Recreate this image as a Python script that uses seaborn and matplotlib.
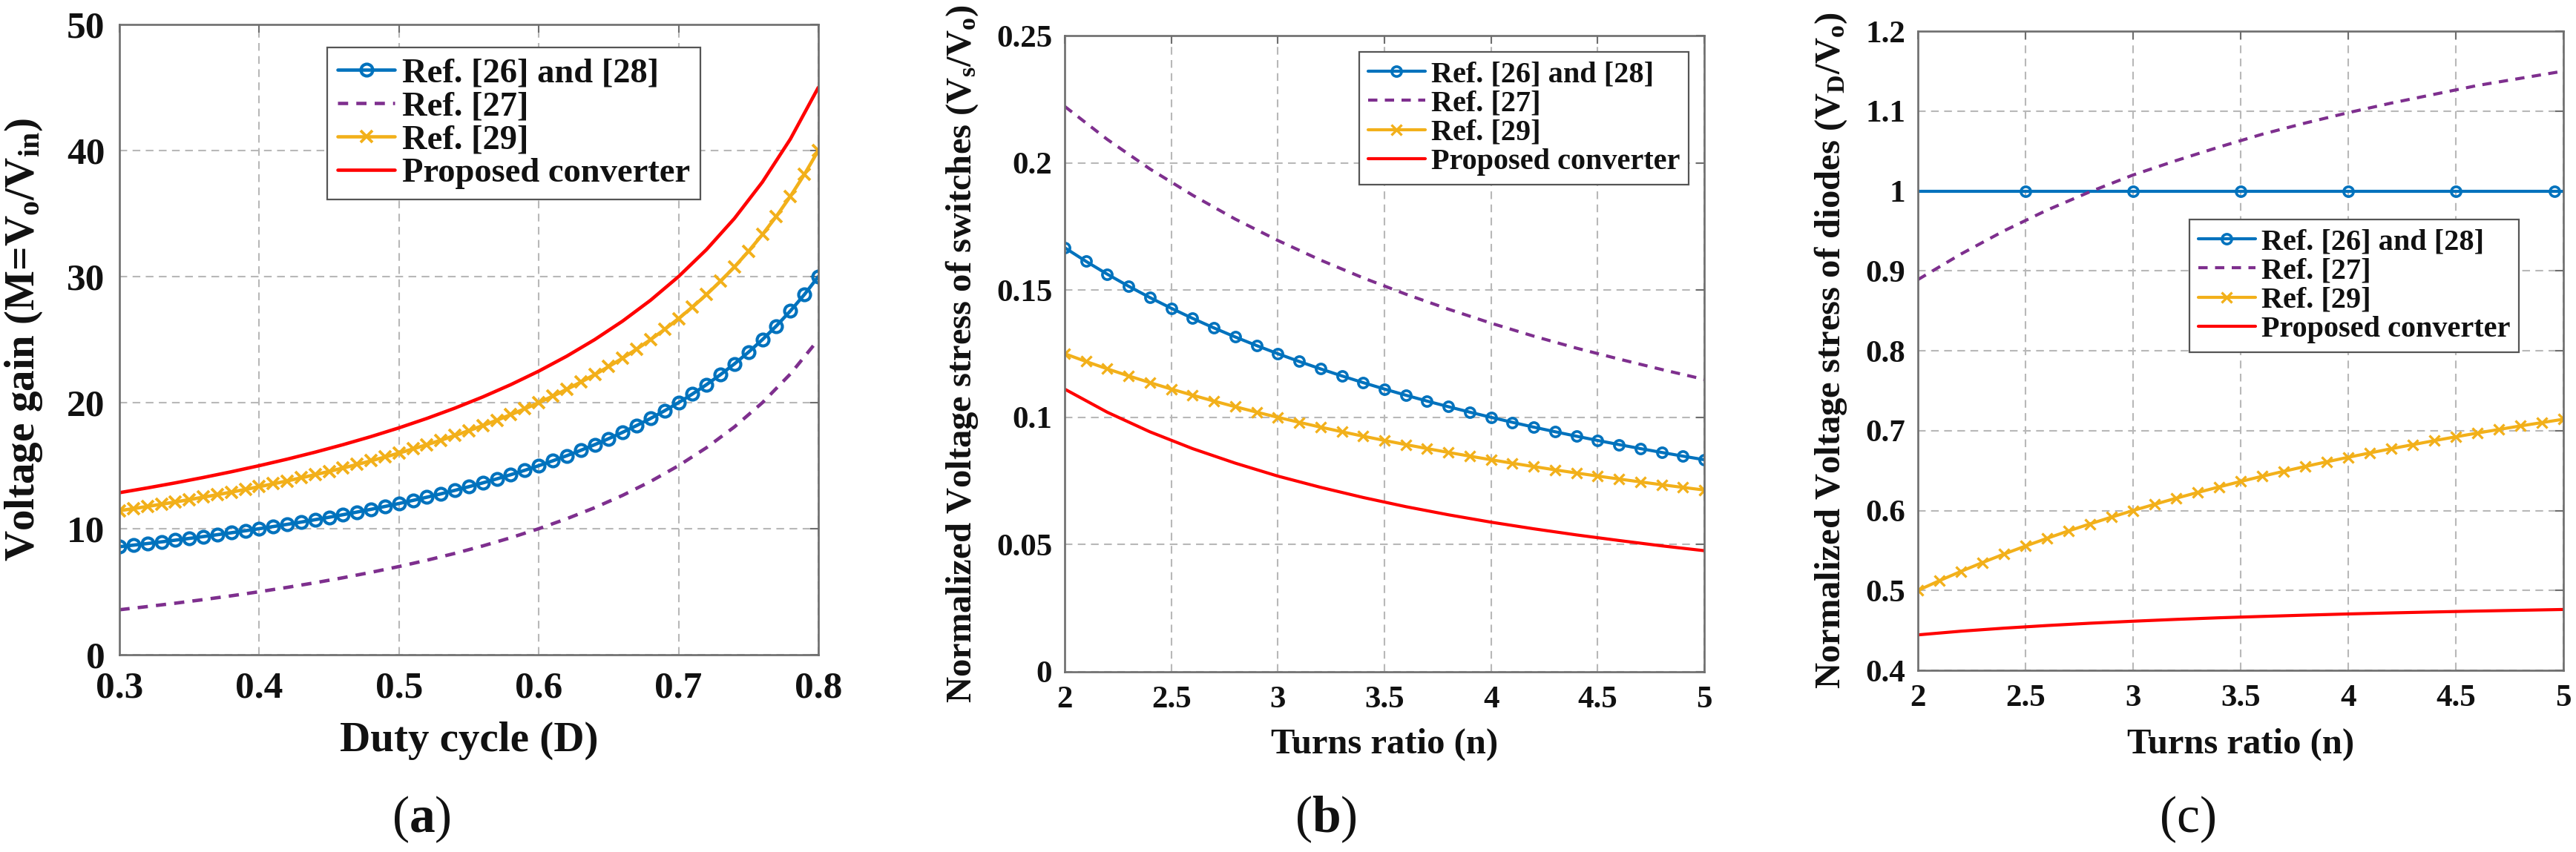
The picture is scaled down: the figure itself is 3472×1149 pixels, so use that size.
import matplotlib
matplotlib.use("Agg")
import matplotlib.pyplot as plt
from matplotlib.lines import Line2D
import seaborn as sns

# ---------------- data ----------------
duty_fine = [0.30, 0.31, 0.32, 0.33, 0.34, 0.35, 0.36, 0.37, 0.38, 0.39,
             0.40, 0.41, 0.42, 0.43, 0.44, 0.45, 0.46, 0.47, 0.48, 0.49,
             0.50, 0.51, 0.52, 0.53, 0.54, 0.55, 0.56, 0.57, 0.58, 0.59,
             0.60, 0.61, 0.62, 0.63, 0.64, 0.65, 0.66, 0.67, 0.68, 0.69,
             0.70, 0.71, 0.72, 0.73, 0.74, 0.75, 0.76, 0.77, 0.78, 0.79, 0.80]
duty_coarse = [0.30, 0.32, 0.34, 0.36, 0.38, 0.40, 0.42, 0.44, 0.46, 0.48, 0.50,
               0.52, 0.54, 0.56, 0.58, 0.60, 0.62, 0.64, 0.66, 0.68, 0.70,
               0.72, 0.74, 0.76, 0.78, 0.80]
gain_ref26_28 = [8.571, 8.696, 8.824, 8.955, 9.091, 9.231, 9.375, 9.524, 9.677, 9.836,
                 10.0, 10.169, 10.345, 10.526, 10.714, 10.909, 11.111, 11.321, 11.538, 11.765,
                 12.0, 12.245, 12.5, 12.766, 13.043, 13.333, 13.636, 13.953, 14.286, 14.634,
                 15.0, 15.385, 15.789, 16.216, 16.667, 17.143, 17.647, 18.182, 18.75, 19.355,
                 20.0, 20.69, 21.429, 22.222, 23.077, 24.0, 25.0, 26.087, 27.273, 28.571, 30.0]
gain_ref29 = [11.429, 11.594, 11.765, 11.94, 12.121, 12.308, 12.5, 12.698, 12.903, 13.115,
              13.333, 13.559, 13.793, 14.035, 14.286, 14.545, 14.815, 15.094, 15.385, 15.686,
              16.0, 16.327, 16.667, 17.021, 17.391, 17.778, 18.182, 18.605, 19.048, 19.512,
              20.0, 20.513, 21.053, 21.622, 22.222, 22.857, 23.529, 24.242, 25.0, 25.806,
              26.667, 27.586, 28.571, 29.63, 30.769, 32.0, 33.333, 34.783, 36.364, 38.095, 40.0]
gain_ref27 = [3.571, 3.824, 4.091, 4.375, 4.677, 5.0, 5.345, 5.714, 6.111, 6.538, 7.0,
              7.5, 8.043, 8.636, 9.286, 10.0, 10.789, 11.667, 12.647, 13.75, 15.0,
              16.429, 18.077, 20.0, 22.273, 25.0]
gain_proposed = [12.857, 13.235, 13.636, 14.063, 14.516, 15.0, 15.517, 16.071, 16.667, 17.308, 18.0,
                 18.75, 19.565, 20.455, 21.429, 22.5, 23.684, 25.0, 26.471, 28.125, 30.0,
                 32.143, 34.615, 37.5, 40.909, 45.0]

turns_fine = [2.0, 2.1, 2.2, 2.3, 2.4, 2.5, 2.6, 2.7, 2.8, 2.9,
              3.0, 3.1, 3.2, 3.3, 3.4, 3.5, 3.6, 3.7, 3.8, 3.9,
              4.0, 4.1, 4.2, 4.3, 4.4, 4.5, 4.6, 4.7, 4.8, 4.9, 5.0]
turns_coarse = [2.0, 2.2, 2.4, 2.6, 2.8, 3.0, 3.2, 3.4, 3.6, 3.8,
                4.0, 4.2, 4.4, 4.6, 4.8, 5.0]
sw_ref26_28 = [0.16667, 0.16129, 0.15625, 0.15152, 0.14706, 0.14286, 0.13889, 0.13514, 0.13158, 0.12821,
               0.125, 0.12195, 0.11905, 0.11628, 0.11364, 0.11111, 0.1087, 0.10638, 0.10417, 0.10204,
               0.1, 0.09804, 0.09615, 0.09434, 0.09259, 0.09091, 0.08929, 0.08772, 0.08621, 0.08475, 0.08333]
sw_ref29 = [0.125, 0.12195, 0.11905, 0.11628, 0.11364, 0.11111, 0.1087, 0.10638, 0.10417, 0.10204,
            0.1, 0.09804, 0.09615, 0.09434, 0.09259, 0.09091, 0.08929, 0.08772, 0.08621, 0.08475,
            0.08333, 0.08197, 0.08065, 0.07937, 0.07813, 0.07692, 0.07576, 0.07463, 0.07353, 0.07246, 0.07143]
sw_ref27 = [0.2222, 0.2092, 0.1976, 0.1873, 0.1779, 0.1695, 0.1618, 0.1548, 0.1484, 0.1425,
            0.137, 0.1319, 0.1272, 0.1229, 0.1188, 0.1149]
sw_proposed = [0.1111, 0.102, 0.0943, 0.0877, 0.082, 0.0769, 0.0725, 0.0685, 0.0649, 0.0617,
               0.0588, 0.0562, 0.0538, 0.0516, 0.0495, 0.0476]

turns_diode_ref26_28 = [2.0, 2.5, 3.0, 3.5, 4.0, 4.5, 4.96, 5.0]
d_ref26_28 = [1.0, 1.0, 1.0, 1.0, 1.0, 1.0, 1.0, 1.0]
d_ref27 = [0.889, 0.921, 0.95, 0.976, 0.999, 1.02, 1.038, 1.055, 1.071, 1.085,
           1.098, 1.11, 1.121, 1.132, 1.141, 1.15]
d_ref29 = [0.5, 0.5122, 0.5238, 0.5349, 0.5455, 0.5556, 0.5652, 0.5745, 0.5833, 0.5918,
           0.6, 0.6078, 0.6154, 0.6226, 0.6296, 0.6364, 0.6429, 0.6491, 0.6552, 0.661,
           0.6667, 0.6721, 0.6774, 0.6825, 0.6875, 0.6923, 0.697, 0.7015, 0.7059, 0.7101, 0.7143]
d_proposed = [0.4444, 0.449, 0.4528, 0.4561, 0.459, 0.4615, 0.4638, 0.4658, 0.4675, 0.4691,
              0.4706, 0.4719, 0.4731, 0.4742, 0.4752, 0.4762]

legend_labels = ["Ref. [26] and [28]", "Ref. [27]", "Ref. [29]", "Proposed converter"]
panel_letters = ["a", "b", "c"]

xticks_a = [0.3, 0.4, 0.5, 0.6, 0.7, 0.8]
xticklabels_a = ["0.3", "0.4", "0.5", "0.6", "0.7", "0.8"]
yticks_a = [0, 10, 20, 30, 40, 50]
yticklabels_a = ["0", "10", "20", "30", "40", "50"]
xticks_bc = [2, 2.5, 3, 3.5, 4, 4.5, 5]
xticklabels_bc = ["2", "2.5", "3", "3.5", "4", "4.5", "5"]
yticks_b = [0, 0.05, 0.1, 0.15, 0.2, 0.25]
yticklabels_b = ["0", "0.05", "0.1", "0.15", "0.2", "0.25"]
yticks_c = [0.4, 0.5, 0.6, 0.7, 0.8, 0.9, 1.0, 1.1, 1.2]
yticklabels_c = ["0.4", "0.5", "0.6", "0.7", "0.8", "0.9", "1", "1.1", "1.2"]

# ---------------- style ----------------
sns.set_theme(style="white")
SERIF = ["Liberation Serif", "DejaVu Serif"]
plt.rcParams["font.family"] = SERIF
plt.rcParams["font.weight"] = "bold"
plt.rcParams["mathtext.fontset"] = "custom"
plt.rcParams["mathtext.rm"] = "Liberation Serif:bold"
plt.rcParams["mathtext.it"] = "Liberation Serif:bold"
plt.rcParams["mathtext.bf"] = "Liberation Serif:bold"
plt.rcParams["mathtext.default"] = "rm"

BLUE = "#0072BD"
PURPLE = "#7E2F8E"
ORANGE = "#F2B01A"
RED = "#FF0000"
SPINE = "#6e6e6e"
GRID = "#b8b8b8"
TXT = "#111111"
DASH = (0, (3, 2.4))

fig = plt.figure(figsize=(34.72, 11.49), dpi=100)
ax_a = fig.add_axes([0.04637, 0.2315, 0.2713, 0.7398])
ax_b = fig.add_axes([0.4133, 0.2115, 0.2483, 0.7467])
ax_c = fig.add_axes([0.7445, 0.2132, 0.2506, 0.7502])


def line(ax, x, y, **kw):
    sns.lineplot(x=x, y=y, ax=ax, estimator=None, sort=False, legend=False, **kw)


def set_ticks(ax, xt, xl, yt, yl, fs):
    ax.set_xticks(xt)
    ax.set_xticklabels(xl, fontfamily=SERIF, fontweight="bold", fontsize=fs, color=TXT)
    ax.set_yticks(yt)
    ax.set_yticklabels(yl, fontfamily=SERIF, fontweight="bold", fontsize=fs, color=TXT)


def style_axes(ax, pad_x, pad_y):
    ax.set_axisbelow(True)
    ax.grid(True, linestyle=(0, (5, 3.5)), color=GRID, linewidth=1.5)
    for s in ax.spines.values():
        s.set_color(SPINE)
        s.set_linewidth(1.9)
        s.set_visible(True)
    ax.tick_params(axis="both", direction="in", top=True, right=True, length=8,
                   width=1.5, color=SPINE)
    ax.tick_params(axis="x", pad=pad_x)
    ax.tick_params(axis="y", pad=pad_y)


def make_handles(lw, ms_o, mew_o, ms_x, mew_x):
    return [
        Line2D([], [], color=BLUE, lw=lw, marker="o", ms=ms_o, mfc="none", mec=BLUE, mew=mew_o),
        Line2D([], [], color=PURPLE, lw=lw, linestyle=DASH),
        Line2D([], [], color=ORANGE, lw=lw, marker="x", ms=ms_x, mec=ORANGE, mew=mew_x),
        Line2D([], [], color=RED, lw=lw),
    ]


def add_legend(ax, handles, fs, loc, anchor, hl):
    leg = ax.legend(handles=handles, labels=legend_labels, loc=loc, bbox_to_anchor=anchor,
                    prop={"weight": "bold", "size": fs, "family": SERIF}, frameon=True,
                    fancybox=False, edgecolor="#555555", framealpha=1, borderpad=0.3,
                    labelspacing=0.05, handlelength=hl, handletextpad=0.2, borderaxespad=0)
    leg.get_frame().set_linewidth(1.6)
    for t in leg.get_texts():
        t.set_color(TXT)


# ---------------- panel (a) ----------------
lw_a = 3.3
line(ax_a, duty_fine, gain_ref26_28, color=BLUE, lw=lw_a, marker="o", ms=11.5,
     mfc="none", mec=BLUE, mew=3.0)
line(ax_a, duty_coarse, gain_ref27, color=PURPLE, lw=lw_a, linestyle=DASH)
line(ax_a, duty_fine, gain_ref29, color=ORANGE, lw=lw_a, marker="x", ms=11,
     mec=ORANGE, mew=2.8)
line(ax_a, duty_coarse, gain_proposed, color=RED, lw=lw_a)
ax_a.set_xlim(0.3, 0.8)
ax_a.set_ylim(0, 50)
set_ticks(ax_a, xticks_a, xticklabels_a, yticks_a, yticklabels_a, 37)
style_axes(ax_a, 16, 14)
ax_a.set_xlabel("Duty cycle (D)", fontsize=41, fontweight="bold", color=TXT, va="top")
ax_a.xaxis.set_label_coords(0.5, -0.106)
ax_a.set_ylabel(r"Voltage gain (M=V$_{\mathrm{o}}$/V$_{\mathrm{in}}$)", fontsize=41,
                fontweight="bold", color=TXT, va="center")
ax_a.yaxis.set_label_coords(-0.137, 0.5)
add_legend(ax_a, make_handles(lw_a, 11.5, 3.0, 11, 2.8), 33.5, "upper left",
           (0.297, 0.9635), 1.67)

# ---------------- panel (b) ----------------
lw_b = 3.0
line(ax_b, turns_fine, sw_ref26_28, color=BLUE, lw=lw_b, marker="o", ms=9.5,
     mfc="none", mec=BLUE, mew=2.6)
line(ax_b, turns_coarse, sw_ref27, color=PURPLE, lw=lw_b, linestyle=DASH)
line(ax_b, turns_fine, sw_ref29, color=ORANGE, lw=lw_b, marker="x", ms=9.5,
     mec=ORANGE, mew=2.4)
line(ax_b, turns_coarse, sw_proposed, color=RED, lw=lw_b)
ax_b.set_xlim(2, 5)
ax_b.set_ylim(0, 0.25)
set_ticks(ax_b, xticks_bc, xticklabels_bc, yticks_b, yticklabels_b, 31)
style_axes(ax_b, 14, 12)
ax_b.set_xlabel("Turns ratio (n)", fontsize=35, fontweight="bold", color=TXT, va="top")
ax_b.xaxis.set_label_coords(0.5, -0.088)
ax_b.set_ylabel(r"Normalized Voltage stress of switches (V$_{\mathrm{s}}$/V$_{\mathrm{o}}$)",
                fontsize=35, fontweight="bold", color=TXT, va="center")
ax_b.yaxis.set_label_coords(-0.160, 0.5)
add_legend(ax_b, make_handles(lw_b, 9.5, 2.6, 9.5, 2.4), 29, "upper right",
           (0.9756, 0.9744), 1.9)

# ---------------- panel (c) ----------------
line(ax_c, turns_diode_ref26_28, d_ref26_28, color=BLUE, lw=lw_b, marker="o", ms=9.5,
     mfc="none", mec=BLUE, mew=2.6, markevery=[1, 2, 3, 4, 5, 6])
line(ax_c, turns_coarse, d_ref27, color=PURPLE, lw=lw_b, linestyle=DASH)
line(ax_c, turns_fine, d_ref29, color=ORANGE, lw=lw_b, marker="x", ms=9.5,
     mec=ORANGE, mew=2.4)
line(ax_c, turns_coarse, d_proposed, color=RED, lw=lw_b)
ax_c.set_xlim(2, 5)
ax_c.set_ylim(0.4, 1.2)
set_ticks(ax_c, xticks_bc, xticklabels_bc, yticks_c, yticklabels_c, 31)
style_axes(ax_c, 14, 12)
ax_c.set_xlabel("Turns ratio (n)", fontsize=35, fontweight="bold", color=TXT, va="top")
ax_c.xaxis.set_label_coords(0.5, -0.090)
ax_c.set_ylabel(r"Normalized Voltage stress of diodes (V$_{\mathrm{D}}$/V$_{\mathrm{o}}$)",
                fontsize=35, fontweight="bold", color=TXT, va="center")
ax_c.yaxis.set_label_coords(-0.1345, 0.5)
add_legend(ax_c, make_handles(lw_b, 9.5, 2.6, 9.5, 2.4), 29, "upper left",
           (0.4207, 0.7053), 1.9)

# ---------------- panel letters ----------------
letter_x = [568, 1787, 2949]
for xc, letter in zip(letter_x, panel_letters):
    if letter == "c":
        s = "(c)"
    else:
        s = "(" + r"$\mathbf{" + letter + "}$" + ")"
    fig.text(xc / 3472, 1 - 1105 / 1149, s, fontsize=50, fontweight="normal",
             family=SERIF, ha="center", va="center", color=TXT)

fig.savefig("out.png", dpi=100)
